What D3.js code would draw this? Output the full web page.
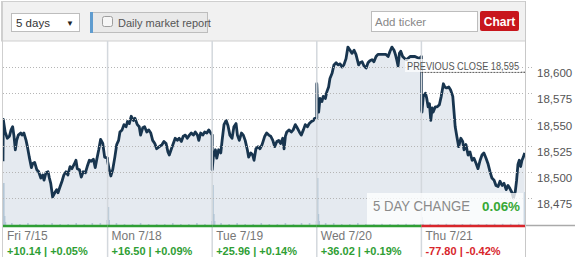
<!DOCTYPE html>
<html>
<head>
<meta charset="utf-8">
<script src="https://cdn.jsdelivr.net/npm/d3@7/dist/d3.min.js"></script>
<style>
  body { margin: 0; background: #fff; }
  svg { display: block; font-family: "Liberation Sans", Arial, sans-serif; }
</style>
</head>
<body>
<div id="main-div"></div>
<script>
// intraday prices, [minutes since open, index level]
var fri = [[0,18510],[1,18550],[8,18538],[16,18532],[24,18534],[30,18540],[36,18543],[41,18534],[46,18521],[51,18530],[57,18535],[66,18537],[71,18535],[78,18537],[86,18530],[91,18524],[98,18514],[106,18504],[111,18508],[118,18509],[126,18502],[133,18500],[141,18494],[148,18497],[153,18492],[160,18499],[168,18500],[173,18494],[178,18489],[185,18476],[193,18480],[200,18483],[205,18480],[213,18486],[220,18491],[227,18497],[235,18500],[242,18497],[250,18505],[257,18503],[265,18507],[272,18511],[277,18503],[285,18502],[292,18495],[299,18500],[307,18499],[314,18505],[322,18511],[329,18510],[337,18512],[344,18504],[349,18511],[357,18521],[364,18531],[372,18527],[379,18514],[390,18513]];
var mon = [[0,18510],[6,18502],[12,18496],[19,18502],[27,18514],[34,18526],[41,18530],[46,18538],[54,18540],[61,18545],[69,18543],[74,18548],[81,18546],[88,18553],[96,18549],[102,18551],[111,18545],[118,18543],[123,18535],[131,18542],[138,18543],[146,18538],[153,18540],[161,18537],[168,18530],[176,18527],[183,18522],[193,18524],[203,18526],[210,18529],[218,18527],[225,18519],[230,18516],[238,18522],[245,18527],[252,18532],[260,18530],[267,18532],[275,18529],[282,18534],[290,18535],[297,18532],[305,18535],[312,18537],[320,18535],[327,18538],[335,18535],[340,18530],[347,18537],[355,18535],[362,18538],[370,18537],[377,18540],[390,18535]];
var tue = [[0,18502],[4,18514],[12,18521],[17,18513],[24,18521],[32,18518],[37,18530],[44,18545],[52,18549],[59,18544],[66,18535],[74,18532],[81,18543],[89,18546],[94,18535],[101,18530],[109,18537],[116,18535],[123,18530],[131,18521],[136,18514],[144,18518],[151,18516],[156,18511],[163,18522],[171,18524],[178,18522],[186,18526],[196,18534],[203,18537],[211,18535],[218,18534],[226,18530],[233,18524],[241,18529],[248,18530],[255,18527],[263,18532],[268,18522],[273,18534],[278,18538],[287,18540],[295,18538],[302,18540],[310,18545],[317,18542],[325,18538],[332,18535],[340,18540],[347,18545],[355,18543],[362,18546],[370,18548],[377,18549],[382,18551],[390,18551]];
var wed = [[0,18584],[2,18570],[7,18557],[12,18570],[19,18567],[24,18572],[32,18570],[37,18576],[44,18581],[49,18589],[57,18594],[64,18602],[72,18604],[79,18602],[87,18603],[94,18600],[101,18602],[109,18608],[116,18619],[124,18616],[131,18613],[139,18616],[146,18612],[151,18607],[156,18602],[161,18604],[169,18605],[176,18601],[184,18599],[191,18604],[198,18606],[206,18607],[213,18605],[221,18610],[228,18612],[236,18612],[243,18612],[251,18612],[258,18612],[266,18610],[273,18615],[280,18619],[288,18616],[293,18612],[298,18607],[303,18601],[308,18613],[313,18615],[320,18610],[328,18608],[335,18607],[348,18610],[366,18610],[382,18608],[390,18610]];
var thu = [[0,18559],[2,18557],[7,18572],[15,18575],[20,18570],[25,18562],[30,18565],[35,18549],[40,18561],[44,18557],[52,18562],[59,18562],[67,18564],[74,18572],[82,18584],[87,18581],[94,18580],[102,18581],[109,18578],[117,18572],[122,18556],[126,18543],[132,18534],[139,18524],[147,18532],[154,18529],[159,18521],[166,18526],[174,18516],[181,18519],[189,18511],[196,18513],[204,18508],[211,18503],[219,18511],[226,18516],[233,18518],[241,18513],[248,18508],[256,18500],[263,18494],[271,18492],[278,18487],[286,18486],[293,18491],[301,18487],[308,18489],[316,18483],[323,18487],[330,18484],[338,18480],[343,18475],[350,18481],[355,18492],[360,18507],[365,18511],[370,18505],[375,18511],[380,18514],[385,18518]];

// volume (rough), [minutes since open, size]
var volFri = [[0,43],[3,10],[6,4],[30,3],[60,2],[90,3],[120,2],[150,2],[180,3],[210,2],[240,2],[270,3],[300,2],[330,3],[360,3],[386,6]];
var volMon = [[0,19],[3,6],[30,3],[60,2],[90,2],[120,3],[150,2],[180,2],[210,2],[240,3],[270,2],[300,2],[330,3],[360,2],[386,5]];
var volTue = [[0,41],[3,12],[6,5],[30,3],[60,2],[90,3],[120,2],[150,2],[180,3],[210,2],[240,2],[270,3],[300,2],[330,3],[360,3],[386,5]];
var volWed = [[0,48],[3,12],[6,5],[30,3],[60,3],[90,2],[120,2],[150,3],[180,2],[210,2],[240,3],[270,2],[300,2],[330,3],[360,2],[386,4]];
var volThu = [[0,9],[3,5],[30,3],[60,2],[90,3],[120,2],[150,2],[180,3],[210,2],[240,2],[270,3],[300,3],[330,3],[360,4],[384,34]];

var dayLabels = ["Fri 7/15", "Mon 7/18", "Tue 7/19", "Wed 7/20", "Thu 7/21"];
var dayChanges = ["+10.14 | +0.05%", "+16.50 | +0.09%", "+25.96 | +0.14%", "+36.02 | +0.19%", "-77.80 | -0.42%"];
var dayUp = [true, true, true, true, false];
var yTicks = [18475, 18500, 18525, 18550, 18575, 18600];
var prevClose = 18595;
var fiveDayChange = "0.06%";

var days = [fri, mon, tue, wed, thu];
var vols = [volFri, volMon, volTue, volWed, volThu];
var dayLen = 390;

var series = [];
days.forEach(function (d, i) {
  d.forEach(function (p) { series.push({ t: p[0] + i * dayLen, v: p[1] }); });
});
var volume = [];
vols.forEach(function (d, i) {
  d.forEach(function (p) { volume.push({ t: p[0] + i * dayLen, v: p[1] }); });
});

var W = 575, H = 257;
var plotTop = 41, plotBottom = 226, plotLeft = 3, plotRight = 526;

var svg = d3.select("#main-div").append("svg")
  .attr("width", W).attr("height", H);

var x = d3.scaleLinear().domain([0, 5 * dayLen]).range([plotLeft, plotRight]);
var y = d3.scaleLinear().domain([18475, 18600]).range([198, 67]);
var yv = d3.scaleLinear().domain([0, 50]).range([plotBottom, plotBottom - 50]);

// header bar
svg.append("rect").attr("x", 1.5).attr("y", 1.5).attr("width", 524).attr("height", 39.5)
  .attr("fill", "#f1f1f1").attr("stroke", "#cfcfcf");

// period select
svg.append("rect").attr("x", 11.5).attr("y", 13.5).attr("width", 68).attr("height", 18)
  .attr("fill", "#fff").attr("stroke", "#bdbdbd");
svg.append("text").attr("x", 16).attr("y", 27).attr("font-size", 11.5).attr("fill", "#333").text("5 days");
svg.append("text").attr("x", 66).attr("y", 26).attr("font-size", 8).attr("fill", "#222").text("▼");

// daily market report toggle
svg.append("rect").attr("x", 90.5).attr("y", 12.5).attr("width", 117).attr("height", 20)
  .attr("fill", "#e9e9e9").attr("stroke", "#bdbdbd");
svg.append("rect").attr("x", 90).attr("y", 12).attr("width", 3).attr("height", 21).attr("fill", "#5f9ccf");
svg.append("rect").attr("x", 102.5).attr("y", 16.5).attr("width", 10).attr("height", 10).attr("rx", 2)
  .attr("fill", "#f6f6f6").attr("stroke", "#9e9e9e");
svg.append("text").attr("x", 118).attr("y", 27).attr("font-size", 11).attr("fill", "#555").text("Daily market report");

// ticker input + button
svg.append("rect").attr("x", 371.5).attr("y", 11.5).attr("width", 106).attr("height", 20)
  .attr("fill", "#fff").attr("stroke", "#bdbdbd");
svg.append("text").attr("x", 375).attr("y", 26).attr("font-size", 11.5).attr("fill", "#888").text("Add ticker");
svg.append("rect").attr("x", 480).attr("y", 11).attr("width", 39).attr("height", 20).attr("rx", 2)
  .attr("fill", "#c8161d");
svg.append("text").attr("x", 499.5).attr("y", 26).attr("text-anchor", "middle").attr("font-size", 12)
  .attr("font-weight", "bold").attr("fill", "#fff").text("Chart");

// plot clip
svg.append("clipPath").attr("id", "plot-clip").append("rect")
  .attr("x", plotLeft).attr("y", plotTop).attr("width", plotRight - plotLeft).attr("height", plotBottom - plotTop);

var plot = svg.append("g").attr("clip-path", "url(#plot-clip)");

// area under price
plot.append("path").datum(series)
  .attr("fill", "#e5eaf0")
  .attr("d", d3.area()
    .x(function (d) { return x(d.t); })
    .y0(plotBottom)
    .y1(function (d) { return y(d.v); }));

// volume bars
plot.selectAll(".vol").data(volume).enter().append("rect")
  .attr("class", "vol")
  .attr("x", function (d) { return x(d.t); })
  .attr("width", 1.6)
  .attr("y", function (d) { return yv(d.v); })
  .attr("height", function (d) { return plotBottom - yv(d.v); })
  .attr("fill", "#b3c6d6");

// dotted gridlines
svg.selectAll(".grid").data(yTicks).enter().append("line")
  .attr("class", "grid")
  .attr("x1", plotLeft).attr("x2", 533)
  .attr("y1", function (d) { return Math.round(y(d)) + 0.5; })
  .attr("y2", function (d) { return Math.round(y(d)) + 0.5; })
  .attr("stroke", "#b5b5b5").attr("stroke-dasharray", "1,2");

// day separators
svg.selectAll(".sep").data(d3.range(1, 5)).enter().append("line")
  .attr("class", "sep")
  .attr("x1", function (d) { return x(d * dayLen); })
  .attr("x2", function (d) { return x(d * dayLen); })
  .attr("y1", plotTop).attr("y2", H)
  .attr("stroke", "#d3d8dd").attr("stroke-width", 1.5);

// borders
svg.append("line").attr("x1", 2.5).attr("x2", 2.5).attr("y1", 1).attr("y2", H).attr("stroke", "#cfcfcf");
svg.append("line").attr("x1", 525.5).attr("x2", 525.5).attr("y1", 1).attr("y2", H).attr("stroke", "#c8c8c8");

// price line
plot.append("path").datum(series)
  .attr("fill", "none")
  .attr("stroke", "#18354f")
  .attr("stroke-width", 2.8)
  .attr("stroke-linejoin", "round")
  .attr("d", d3.line()
    .x(function (d) { return x(d.t); })
    .y(function (d) { return y(d.v); }));

// previous close
svg.append("line")
  .attr("x1", x(4 * dayLen)).attr("x2", plotRight - 1)
  .attr("y1", y(prevClose)).attr("y2", y(prevClose))
  .attr("stroke", "#333").attr("stroke-dasharray", "2,1");
svg.append("rect").attr("x", 405).attr("y", 59).attr("width", 116).attr("height", 13)
  .attr("fill", "#fff").attr("opacity", 0.7);
svg.append("text").attr("x", 407).attr("y", 69.5).attr("font-size", 10.5).attr("fill", "#555")
  .attr("textLength", 112).attr("lengthAdjust", "spacingAndGlyphs")
  .text("PREVIOUS CLOSE " + d3.format(",")(prevClose));

// y axis on the right
var yAxis = d3.axisRight(y).tickValues(yTicks).tickSize(0).tickFormat(d3.format(","));
var ya = svg.append("g").attr("transform", "translate(534,0)").call(yAxis);
ya.select(".domain").remove();
ya.selectAll("text").attr("y", 6).attr("font-size", 11.5).attr("fill", "#555")
  .attr("font-family", "Liberation Sans, Arial, sans-serif");

// 5 day change box
svg.append("rect").attr("x", 367).attr("y", 193).attr("width", 156).attr("height", 31)
  .attr("fill", "#fff").attr("opacity", 0.78);
svg.append("text").attr("x", 373).attr("y", 210.5).attr("font-size", 14).attr("fill", "#8a8a8a")
  .attr("textLength", 97).attr("lengthAdjust", "spacingAndGlyphs")
  .text("5 DAY CHANGE");
svg.append("text").attr("x", 482).attr("y", 210.5).attr("font-size", 13.5).attr("font-weight", "bold")
  .attr("fill", "#36a836").attr("textLength", 38).attr("lengthAdjust", "spacingAndGlyphs")
  .text(fiveDayChange);

// bottom baseline, green for up days, red for down
svg.append("line").attr("x1", plotRight).attr("x2", W).attr("y1", 225.5).attr("y2", 225.5)
  .attr("stroke", "#aaa").attr("stroke-width", 1.5);
svg.selectAll(".base").data(dayUp).enter().append("line")
  .attr("class", "base")
  .attr("x1", function (d, i) { return x(i * dayLen); })
  .attr("x2", function (d, i) { return Math.min(x((i + 1) * dayLen), plotRight - 1); })
  .attr("y1", 226).attr("y2", 226)
  .attr("stroke", function (d) { return d ? "#2f9e34" : "#d8262b"; })
  .attr("stroke-width", 2.5);

// day labels and changes
svg.selectAll(".dlab").data(dayLabels).enter().append("text")
  .attr("class", "dlab")
  .attr("x", function (d, i) { return x(i * dayLen) + 4; })
  .attr("y", 240)
  .attr("font-size", 12).attr("fill", "#777")
  .text(function (d) { return d; });
svg.selectAll(".dchg").data(dayChanges).enter().append("text")
  .attr("class", "dchg")
  .attr("x", function (d, i) { return x(i * dayLen) + 4; })
  .attr("y", 255)
  .attr("font-size", 11).attr("font-weight", "bold")
  .attr("fill", function (d, i) { return dayUp[i] ? "#2f9e34" : "#d8262b"; })
  .text(function (d) { return d; });
</script>
</body>
</html>
